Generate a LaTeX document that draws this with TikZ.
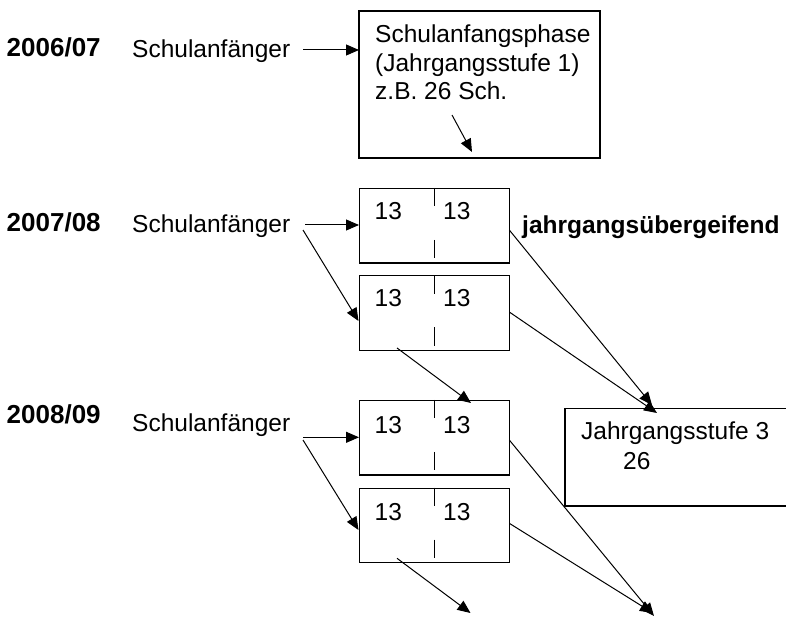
\documentclass[tikz,border=0pt]{standalone}
\usepackage{fontspec}
\setmainfont{Liberation Sans}
\usetikzlibrary{arrows.meta}
\begin{document}
\begin{tikzpicture}[x=1pt,y=-1pt,
  txt/.style={anchor=base west,inner sep=0pt,font=\fontsize{24.5}{28}\selectfont},
  yr/.style={anchor=base west,inner sep=0pt,font=\fontsize{26}{30}\selectfont\bfseries},
  bld/.style={anchor=base west,inner sep=0pt,font=\fontsize{24.5}{28}\selectfont\bfseries},
  sbox/.style={draw,line width=1.4pt,rectangle,inner sep=0pt,minimum width=150pt,minimum height=74.5pt},
  divider/.style={line width=1.2pt,dash pattern=on 18.5pt off 33.5pt},
  conn/.style={line width=1pt,-{Triangle[length=13pt,width=11pt]}}]
\useasboundingbox (0,0) rectangle (786,620);
\clip (0,0) rectangle (786,620);
\fill[white] (0,0) rectangle (786,620);
% row labels
\node[yr] (y1) at (6.5,56.7) {2006/07};
\node[txt] (s1) at (132,57.7) {Schulanfänger};
\node[yr] (y2) at (6.5,231.7) {2007/08};
\node[txt] (s2) at (132,232.7) {Schulanfänger};
\node[yr] (y3) at (6.5,423.3) {2008/09};
\node[txt] (s3) at (132,431.7) {Schulanfänger};
% top box
\node[draw,line width=1.4pt,rectangle,inner sep=0pt,minimum width=241pt,minimum height=147pt] (T) at (479.5,84.5) {};
\node[txt] (t1) at (375,43) {Schulanfangsphase};
\node[txt] (t2) at (375,72) {(Jahrgangsstufe 1)};
\node[txt] (t3) at (375,99.5) {z.B. 26 Sch.};
% small boxes
\node[sbox] (A) at (434.2,225.8) {};
\node[sbox] (B) at (434.2,313) {};
\node[sbox] (C) at (434.2,437.8) {};
\node[sbox] (D) at (434.2,525.5) {};
\foreach \b in {A,B,C,D} {\draw[divider] (\b.north) -- (\b.south);}
\node[txt] (a1) at (374.5,220) {13};
\node[txt] (a2) at (443,220) {13};
\node[txt] (b1) at (374.5,306.7) {13};
\node[txt] (b2) at (443,306.7) {13};
\node[txt] (c1) at (374.5,433.3) {13};
\node[txt] (c2) at (443,433.3) {13};
\node[txt] (d1) at (374.5,520) {13};
\node[txt] (d2) at (443,520) {13};
\node[bld] (jg) at (522,233.3) {jahrgangsübergeifend};
% Jahrgangsstufe 3 box (open to the right)
\node[draw,line width=1.4pt,rectangle,inner sep=0pt,minimum width=260pt,minimum height=97.7pt] (J) at (695,457.2) {};
\node[txt] (j1) at (581,439.3) {Jahrgangsstufe 3};
\node[txt] (j2) at (623,469) {26};
% connector end points
\coordinate (p1s) at (303,50);   \coordinate (p1e) at (359,50);
\coordinate (p2s) at (305,225);  \coordinate (p2e) at (359,225);
\coordinate (p2d) at (303,230);  \coordinate (p2de) at (358.5,321);
\coordinate (p3s) at (303.3,437.3); \coordinate (p3e) at (359,437.3);
\coordinate (p3d) at (303,440);  \coordinate (p3de) at (358.5,530);
\coordinate (ts) at (452,115);   \coordinate (te) at (472,152);
\coordinate (bs) at (397,348);   \coordinate (ce) at (471,403);
\coordinate (ds) at (397,558.3); \coordinate (de) at (470.5,613);
\coordinate (ar) at (509.3,230); \coordinate (je1) at (652,405);
\coordinate (br) at (509.3,312); \coordinate (je2) at (657,413);
\coordinate (cr) at (509.3,440); \coordinate (be1) at (654,616);
\coordinate (dr) at (509.3,523.3); \coordinate (be2) at (653,613);
% connectors
\draw[conn] (p1s) -- (p1e);
\draw[conn] (p2s) -- (p2e);
\draw[conn] (p2d) -- (p2de);
\draw[conn] (p3s) -- (p3e);
\draw[conn] (p3d) -- (p3de);
\draw[conn] (ts) -- (te);
\draw[conn] (bs) -- (ce);
\draw[conn] (ds) -- (de);
\draw[conn] (ar) -- (je1);
\draw[conn] (br) -- (je2);
\draw[conn] (cr) -- (be1);
\draw[conn] (dr) -- (be2);
\end{tikzpicture}
\end{document}
